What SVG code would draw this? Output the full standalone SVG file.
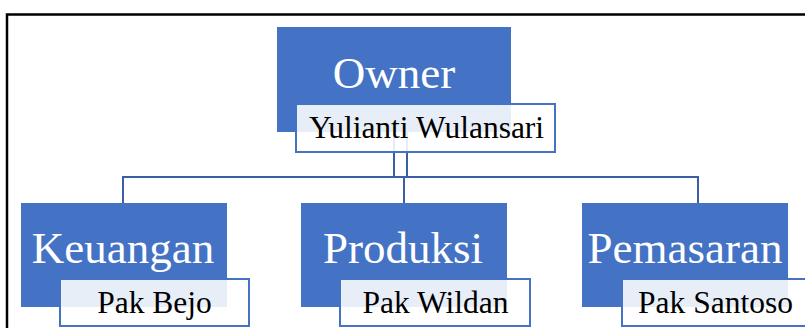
<svg xmlns="http://www.w3.org/2000/svg" width="805" height="328" viewBox="0 0 805 328">
<style>
.frame{fill:none;stroke:#000;stroke-width:2.5}
.role{fill:#4472C4}
.name{fill:#fff;fill-opacity:0.88;stroke:#4472C4;stroke-width:2}
.conn{fill:none;stroke:#3A5FA5;stroke-width:2}
.t1{font-family:"Liberation Serif","Times New Roman",serif;font-size:45px;fill:#fff;text-anchor:middle}
.t2{font-family:"Liberation Serif","Times New Roman",serif;font-size:31.5px;fill:#000;text-anchor:middle}
</style>
<rect width="805" height="328" fill="#fff"/>
<rect class="frame" x="7" y="14.5" width="820" height="330"/>
<g id="connectors">
<line class="conn" x1="394" y1="132" x2="394" y2="177"/>
<line class="conn" x1="407" y1="132" x2="407" y2="177"/>
<line class="conn" x1="123" y1="177" x2="698" y2="177"/>
<line class="conn" x1="123" y1="176" x2="123" y2="203"/>
<line class="conn" x1="404" y1="176" x2="404" y2="203"/>
<line class="conn" x1="698" y1="176" x2="698" y2="203"/>
</g>
<g id="owner">
<rect class="role" x="277" y="27" width="234" height="105"/>
<text class="t1" x="394" y="88">Owner</text>
<rect class="name" x="296" y="104" width="259" height="48"/>
<text class="t2" x="426.5" y="138">Yulianti Wulansari</text>
</g>
<g id="keuangan">
<rect class="role" x="21" y="203" width="206" height="104"/>
<text class="t1" x="123" y="263">Keuangan</text>
<rect class="name" x="60" y="279" width="189" height="47"/>
<text class="t2" x="154.5" y="313">Pak Bejo</text>
</g>
<g id="produksi">
<rect class="role" x="301" y="203" width="206" height="104"/>
<text class="t1" x="403" y="263">Produksi</text>
<rect class="name" x="340" y="279" width="190" height="47"/>
<text class="t2" x="435.5" y="313">Pak Wildan</text>
</g>
<g id="pemasaran">
<rect class="role" x="582" y="203" width="206" height="104"/>
<text class="t1" x="685" y="263">Pemasaran</text>
<rect class="name" x="622" y="279" width="190" height="47"/>
<text class="t2" x="715.5" y="313">Pak Santoso</text>
</g>
</svg>
